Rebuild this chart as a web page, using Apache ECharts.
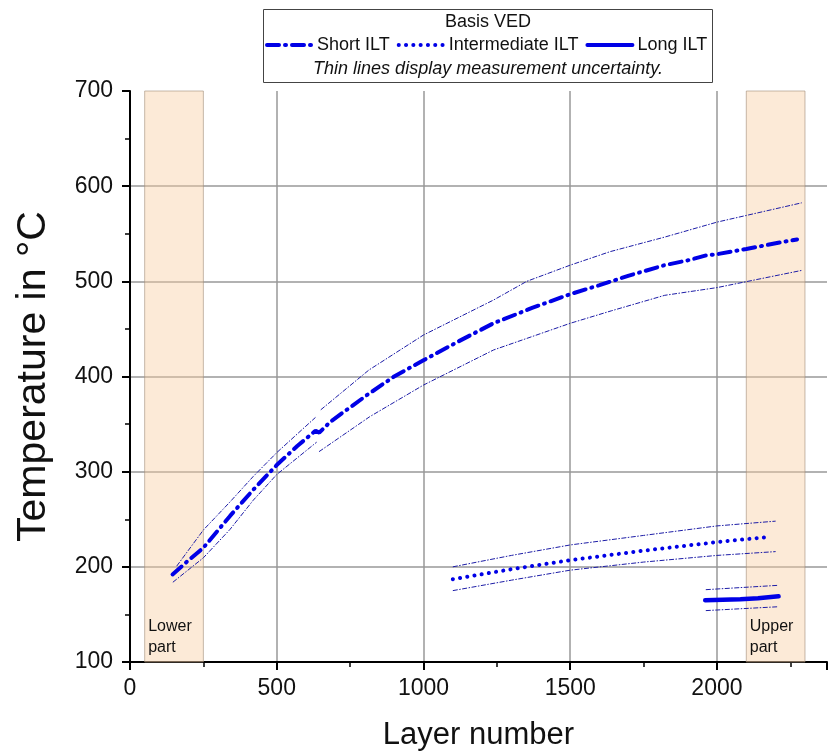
<!DOCTYPE html>
<html>
<head>
<meta charset="utf-8">
<script src="https://cdn.jsdelivr.net/npm/echarts@6/dist/echarts.min.js"></script>
<style>
html, body { margin: 0; padding: 0; background: #fff; }
#chart { width: 830px; height: 753px; }
</style>
</head>
<body>
<div id="chart"></div>
<script>
// values: [layer, temperature]
var shortMean = [[145,192],[200,207],[250,220],[341,253.5],[420,281],[500,307],[570,327],[632,343],[645,341],[683,352.5],[808,380.6],[900,400],[1000,417],[1120,437],[1239,456],[1370,472],[1500,486.5],[1600,496],[1700,506],[1822,517],[1900,522],[1960,527],[2000,528.5],[2100,534],[2200,540],[2273,544]];
var shortUpper1 = [[159,200.7],[250,238.7],[341,268.3],[420,295],[500,320],[632,357]];
var shortUpper2 = [[650,365],[814,406.8],[1000,443.6],[1239,480.4],[1352,500],[1500,517],[1636,531.2],[1822,546.5],[2000,562.2],[2289,582.5]];
var shortLower1 = [[146,183.8],[250,209.5],[341,239.4],[420,270],[500,297],[636,331]];
var shortLower2 = [[644,321],[817,357.8],[1000,391],[1239,427.9],[1500,455.9],[1640,469],[1822,485.3],[2000,493.4],[2289,511.5]];

var interMean = [[1100,187],[1300,197.5],[1500,207],[1750,217],[2000,226],[2180,231.5]];
var interUpper = [[1100,200],[1300,212],[1500,223],[1750,233],[2000,243],[2200,248]];
var interLower = [[1100,175],[1300,186],[1500,196.5],[1750,205],[2000,212],[2200,216]];

var longMean = [[1960,165],[2080,166],[2140,167],[2210,169]];
var longUpper = [[1962,176],[2205,180.5]];
var longLower = [[1962,154],[2205,158]];

var bands = [[50, 250, 'Lower\npart'], [2100, 2300, 'Upper\npart']];
var legendNames = ['Short ILT', 'Intermediate ILT', 'Long ILT'];

var blue = '#0000e6';
var thinBlue = '#1c1ca6';
var font = 'Arial, "Liberation Sans", sans-serif';

function thin(data) {
    return {
        type: 'line', data: data, showSymbol: false, silent: true,
        lineStyle: { color: thinBlue, width: 1, type: [5, 1.5, 1.5, 1.5] },
        itemStyle: { color: thinBlue }
    };
}

var chart = echarts.init(document.getElementById('chart'));

var bandArea = {
    silent: true,
    itemStyle: { color: 'rgba(249,205,160,0.42)', borderColor: 'rgba(160,140,120,0.6)', borderWidth: 1 },
    label: { position: 'insideBottomLeft', distance: 4, fontSize: 16, lineHeight: 21, color: '#111', fontFamily: font },
    data: bands.map(function (b) {
        return [{ xAxis: b[0], name: b[2] }, { xAxis: b[1] }];
    })
};

var s1 = thin(shortUpper1);
s1.markArea = bandArea;

chart.setOption({
    animation: false,
    grid: { left: 130, right: 3, top: 91, bottom: 91, outerBoundsMode: 'none' },
    graphic: [
        { type: 'rect', shape: { x: 263.5, y: 9.5, width: 449, height: 73 }, style: { fill: '#fff', stroke: '#444', lineWidth: 1 }, z: 0 },
        { type: 'text', x: 488, y: 22, style: { text: 'Basis VED', fontSize: 18, fontFamily: font, fill: '#111', align: 'center', verticalAlign: 'middle' }, z: 10 },
        { type: 'text', x: 488, y: 69, style: { text: 'Thin lines display measurement uncertainty.', fontSize: 18, fontStyle: 'italic', fontFamily: font, fill: '#111', align: 'center', verticalAlign: 'middle' }, z: 10 }
    ],
    legend: {
        data: legendNames,
        left: 265, top: 36,
        itemWidth: 45, itemHeight: 18, itemGap: 7,
        padding: 0,
        itemStyle: { opacity: 0 },
        lineStyle: { width: 4 },
        textStyle: { fontSize: 18, fontFamily: font, color: '#111' },
        z: 10
    },
    xAxis: {
        type: 'value', min: 0, max: 2375, interval: 500,
        name: 'Layer number', nameLocation: 'middle', nameGap: 58,
        nameTextStyle: { fontSize: 31, fontFamily: font, color: '#111' },
        axisLine: { show: true, lineStyle: { color: '#000', width: 2 } },
        axisTick: { show: true, length: 8, lineStyle: { color: '#000', width: 2 } },
        minorTick: { show: true, splitNumber: 2, length: 5, lineStyle: { color: '#000', width: 1.5 } },
        axisLabel: {
            fontSize: 23, fontFamily: font, color: '#111', margin: 15,
            formatter: function (v) { return v % 500 === 0 ? String(v) : ''; }
        },
        splitLine: { show: true, showMinLine: false, showMaxLine: false, lineStyle: { color: '#999', width: 1.5 } }
    },
    yAxis: {
        type: 'value', min: 100, max: 700, interval: 100,
        name: 'Temperature in °C', nameLocation: 'middle', nameGap: 76,
        nameTextStyle: { fontSize: 41, fontFamily: font, color: '#111' },
        axisLine: { show: true, lineStyle: { color: '#000', width: 2 } },
        axisTick: { show: true, length: 8, lineStyle: { color: '#000', width: 2 } },
        minorTick: { show: true, splitNumber: 2, length: 5, lineStyle: { color: '#000', width: 1.5 } },
        axisLabel: { fontSize: 23, fontFamily: font, color: '#111', margin: 17 },
        splitLine: { show: true, showMinLine: false, showMaxLine: false, lineStyle: { color: '#999', width: 1.5 } }
    },
    series: [
        s1,
        thin(shortUpper2),
        thin(shortLower1),
        thin(shortLower2),
        thin(interUpper),
        thin(interLower),
        thin(longUpper),
        thin(longLower),
        {
            name: 'Short ILT', type: 'line', data: shortMean, showSymbol: false, symbol: 'none',
            lineStyle: { color: blue, width: 4, type: [12, 6, 1, 6], cap: 'round' },
            itemStyle: { color: blue }
        },
        {
            name: 'Intermediate ILT', type: 'line', data: interMean, showSymbol: false, symbol: 'none',
            lineStyle: { color: blue, width: 4, type: [0.1, 7.2], cap: 'round' },
            itemStyle: { color: blue }
        },
        {
            name: 'Long ILT', type: 'line', data: longMean, showSymbol: false, symbol: 'none',
            lineStyle: { color: blue, width: 4.5, cap: 'round' },
            itemStyle: { color: blue }
        }
    ]
});
</script>
</body>
</html>
